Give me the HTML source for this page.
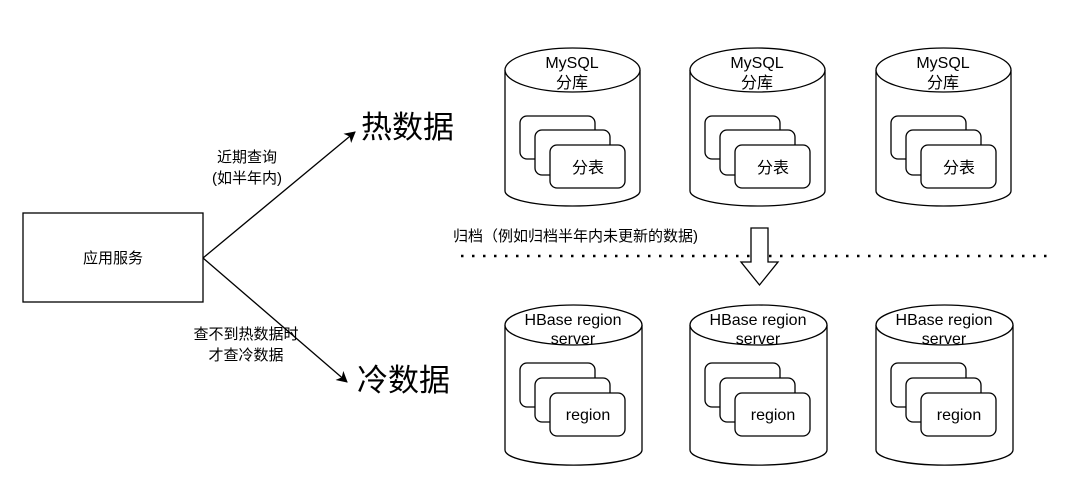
<!DOCTYPE html>
<html><head><meta charset="utf-8"><style>
html,body{margin:0;padding:0;background:#fff;}
svg{display:block;}
text{font-family:"Liberation Sans","Noto Sans CJK SC",sans-serif;fill:#000;}
</style></head><body>
<svg width="1092" height="492" viewBox="0 0 1092 492" xmlns="http://www.w3.org/2000/svg">
<defs>
<marker id="ah" markerWidth="12" markerHeight="12" refX="10" refY="6" orient="auto" markerUnits="userSpaceOnUse">
<path d="M0,0 L11,6 L0,12 L3,6 Z" fill="#000"/>
</marker>
<g id="cylT">
<path d="M0,22 L0,143 A67.5,15 0 0 0 135,143 L135,22" fill="#fff" stroke="#000" stroke-width="1.3"/>
<ellipse cx="67.5" cy="22" rx="67.5" ry="22" fill="#fff" stroke="#000" stroke-width="1.3"/>
<rect x="15" y="68" width="75" height="43" rx="7" fill="#fff" stroke="#000" stroke-width="1.3"/>
<rect x="30" y="82" width="75" height="45" rx="7" fill="#fff" stroke="#000" stroke-width="1.3"/>
<rect x="45" y="97" width="75" height="43" rx="7" fill="#fff" stroke="#000" stroke-width="1.3"/>
</g>
<g id="cylB">
<path d="M0,20 L0,145 A68,15 0 0 0 137,145 L137,20" fill="#fff" stroke="#000" stroke-width="1.3"/>
<ellipse cx="68.5" cy="20" rx="68.5" ry="20" fill="#fff" stroke="#000" stroke-width="1.3"/>
<rect x="15" y="58" width="75" height="44" rx="7" fill="#fff" stroke="#000" stroke-width="1.3"/>
<rect x="30" y="73" width="75" height="44" rx="7" fill="#fff" stroke="#000" stroke-width="1.3"/>
<rect x="45" y="88" width="75" height="43" rx="7" fill="#fff" stroke="#000" stroke-width="1.3"/>
</g>
</defs>

<rect x="23" y="213" width="180" height="89" fill="#fff" stroke="#000" stroke-width="1.3"/>
<text x="113" y="263" font-size="15" text-anchor="middle">应用服务</text>

<line x1="203" y1="258" x2="355" y2="132" stroke="#000" stroke-width="1.3" marker-end="url(#ah)"/>
<line x1="203" y1="258" x2="347" y2="382" stroke="#000" stroke-width="1.3" marker-end="url(#ah)"/>

<text x="247" y="162" font-size="15" text-anchor="middle">近期查询</text>
<text x="247" y="183" font-size="15" text-anchor="middle">(如半年内)</text>
<text x="246" y="339" font-size="15" text-anchor="middle">查不到热数据时</text>
<text x="246" y="360" font-size="15" text-anchor="middle">才查冷数据</text>

<text x="361" y="138" font-size="31">热数据</text>
<text x="357" y="391" font-size="31">冷数据</text>

<text x="453" y="241" font-size="15">归档（例如归档半年内未更新的数据)</text>
<line x1="461" y1="256" x2="1050" y2="256" stroke="#000" stroke-width="2.5" stroke-dasharray="2.5,8.5"/>
<path d="M751,228 L768,228 L768,262 L778,262 L759.5,285 L741,262 L751,262 Z" fill="#fff" stroke="#000" stroke-width="1.3"/>

<use href="#cylT" x="505" y="48"/>
<use href="#cylT" x="690" y="48"/>
<use href="#cylT" x="876" y="48"/>
<g font-size="16" text-anchor="middle">
<text x="572" y="68">MySQL</text><text x="572" y="88">分库</text>
<text x="757" y="68">MySQL</text><text x="757" y="88">分库</text>
<text x="943" y="68">MySQL</text><text x="943" y="88">分库</text>
<text x="588" y="173">分表</text>
<text x="773" y="173">分表</text>
<text x="959" y="173">分表</text>
</g>

<use href="#cylB" x="505" y="305"/>
<use href="#cylB" x="690" y="305"/>
<use href="#cylB" x="876" y="305"/>
<g font-size="16" text-anchor="middle">
<text x="573" y="325">HBase region</text><text x="573" y="344">server</text>
<text x="758" y="325">HBase region</text><text x="758" y="344">server</text>
<text x="944" y="325">HBase region</text><text x="944" y="344">server</text>
<text x="588" y="420">region</text>
<text x="773" y="420">region</text>
<text x="959" y="420">region</text>
</g>
</svg>
</body></html>
